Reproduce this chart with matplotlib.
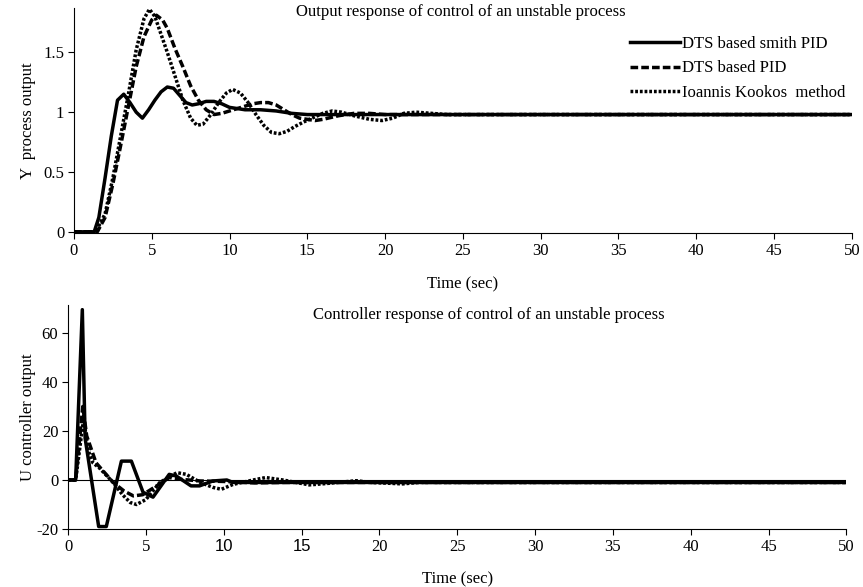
import matplotlib
matplotlib.use("Agg")
import matplotlib.pyplot as plt

# ---- output response (top panel) ----
t_smith = [0, 1.3, 1.6, 2.0, 2.4, 2.8, 3.2, 3.6, 4.0, 4.4, 4.8, 5.2, 5.6, 6.0,
           6.4, 6.8, 7.2, 7.6, 8.0, 8.5, 9.0, 9.5, 10, 11, 12, 13, 14, 15, 50]
y_smith = [0, 0, 0.12, 0.45, 0.8, 1.1, 1.15, 1.08, 1.0, 0.95, 1.02, 1.1, 1.17,
           1.21, 1.2, 1.14, 1.08, 1.06, 1.07, 1.09, 1.09, 1.07, 1.04, 1.02,
           1.02, 1.01, 0.99, 0.98, 0.98]

t_pid = [0, 1.5, 2.0, 2.5, 3.0, 3.5, 4.0, 4.5, 5.0, 5.3, 5.7, 6.0, 6.5, 7.0,
         7.5, 8.0, 8.5, 9.0, 9.5, 10, 10.5, 11, 11.5, 12, 12.5, 13, 13.5, 14,
         14.5, 15, 15.5, 16, 17, 18, 19, 20, 50]
y_pid = [0, 0, 0.12, 0.4, 0.72, 1.05, 1.38, 1.63, 1.77, 1.81, 1.77, 1.7, 1.53,
         1.38, 1.22, 1.1, 1.02, 0.98, 0.99, 1.01, 1.03, 1.05, 1.07, 1.08, 1.08,
         1.06, 1.02, 0.98, 0.95, 0.94, 0.93, 0.94, 0.97, 0.99, 0.99, 0.98, 0.98]

t_kookos = [0, 1.4, 2.0, 2.5, 3.0, 3.5, 4.0, 4.5, 4.85, 5.2, 5.6, 6.0, 6.5,
            7.0, 7.5, 7.9, 8.3, 8.8, 9.3, 9.8, 10.2, 10.7, 11.2, 11.7, 12.2,
            12.7, 13.2, 13.7, 14.2, 14.8, 15.3, 16.0, 16.6, 17.2, 18.0, 19.0,
            19.8, 20.5, 21.2, 22.0, 23.0, 24.0, 50]
y_kookos = [0, 0, 0.15, 0.45, 0.8, 1.15, 1.52, 1.78, 1.86, 1.8, 1.65, 1.5,
            1.3, 1.1, 0.95, 0.89, 0.9, 0.98, 1.08, 1.16, 1.19, 1.16, 1.08,
            0.98, 0.89, 0.83, 0.82, 0.84, 0.88, 0.92, 0.95, 0.99, 1.01, 1.0,
            0.97, 0.94, 0.93, 0.95, 0.99, 1.0, 0.99, 0.98, 0.98]

# ---- controller response (bottom panel) ----
tu_smith = [0, 0.49, 0.92, 1.1, 1.97, 2.46, 3.43, 4.07, 4.82, 5.46, 6.5, 6.96,
            7.9, 8.45, 9.3, 10.2, 10.6, 50]
u_smith = [0, 0, 69.5, 17, -19, -19, 7.7, 7.7, -5, -7, 2.3, 1.6, -2.4, -2.4,
           -0.4, 0, -1, -1]

tu_pid = [0, 0.49, 0.95, 1.2, 1.8, 2.9, 3.6, 4.2, 4.8, 5.7, 6.5, 7.2, 8.5,
          10.0, 12.0, 14.0, 50]
u_pid = [0, 0, 30, 18, 7, -1, -4.5, -6.5, -6, -2.4, 1, 0.3, -0.4, -0.6,
         -1.2, -1, -1]

tu_kookos = [0, 0.49, 1.0, 1.3, 1.6, 2.0, 2.9, 3.5, 4.0, 4.4, 5.0, 5.9, 7.0,
             7.6, 8.5, 9.3, 9.85, 10.6, 11.9, 12.7, 13.8, 15.5, 16.5, 18.5,
             19.5, 21.5, 22.5, 50]
u_kookos = [0, 0, 25, 12, 7, 5, -1, -6, -9.2, -10, -8, -1, 3, 2.3, -1, -3,
            -3.8, -1.8, 0, 1, 0, -2, -1.5, -0.3, -1, -1.6, -1, -1]

labels = ["DTS based smith PID", "DTS based PID", "Ioannis Kookos  method"]

plt.rcParams["font.family"] = ["Liberation Serif", "DejaVu Serif"]
plt.rcParams["axes.unicode_minus"] = False

fig = plt.figure(figsize=(8.63, 5.87), dpi=100)
ax1 = fig.add_axes([0.0857, 0.6030, 0.9013, 0.3833])
ax2 = fig.add_axes([0.0788, 0.0988, 0.9020, 0.3816])

lw = 2.5
dash = (0, (2.2, 0.9))
dot = (0, (0.8, 0.55))
fs = 12


def style(ax):
    for s in ("top", "right"):
        ax.spines[s].set_visible(False)
    ax.spines["left"].set_linewidth(0.8)
    ax.spines["bottom"].set_linewidth(0.8)
    ax.tick_params(direction="out", length=4, width=0.8, labelsize=fs, pad=3)
    ax.set_xlim(0, 50)
    ax.set_xticks(range(0, 51, 5))


ax1.plot(t_smith, y_smith, color="black", lw=lw, ls="-", label=labels[0])
ax1.plot(t_pid, y_pid, color="black", lw=lw, ls=dash, label=labels[1])
ax1.plot(t_kookos, y_kookos, color="black", lw=lw, ls=dot, label=labels[2])
style(ax1)
ax1.set_ylim(-0.01, 1.87)
ax1.set_yticks([0, 0.5, 1, 1.5])
ax1.set_yticklabels(["0", "0.5", "1", "1.5"])
ax1.set_xlabel("Time (sec)", fontsize=fs, labelpad=13)
ax1.set_ylabel("Y  process output", fontsize=fs, labelpad=5)
ax1.text(0.497, 0.982, "Output response of control of an unstable process",
         transform=ax1.transAxes, ha="center", va="center", fontsize=fs)
ax1.legend(loc="upper right", bbox_to_anchor=(1.0, 0.905), frameon=False,
           fontsize=fs, handlelength=3.0, handletextpad=0.12,
           labelspacing=0.5, borderaxespad=0.0)

ax2.axhline(0, color="black", lw=0.8)
ax2.plot(tu_smith, u_smith, color="black", lw=lw, ls="-")
ax2.plot(tu_pid, u_pid, color="black", lw=lw, ls=dash)
ax2.plot(tu_kookos, u_kookos, color="black", lw=lw, ls=dot)
style(ax2)
ax2.set_ylim(-20, 71.4)
ax2.set_yticks([-20, 0, 20, 40, 60])
ax2.set_xlabel("Time (sec)", fontsize=fs, labelpad=12)
ax2.set_ylabel("U controller output", fontsize=fs, labelpad=0)
ax2.text(0.54, 0.955, "Controller response of control of an unstable process",
         transform=ax2.transAxes, ha="center", va="center", fontsize=fs)
# the scanned figure shows 10 and 15 in a sans face
for lab in ax2.get_xticklabels():
    if lab.get_text() in ("10", "15"):
        lab.set_family("Liberation Sans")

fig.savefig("out.png", dpi=100)
